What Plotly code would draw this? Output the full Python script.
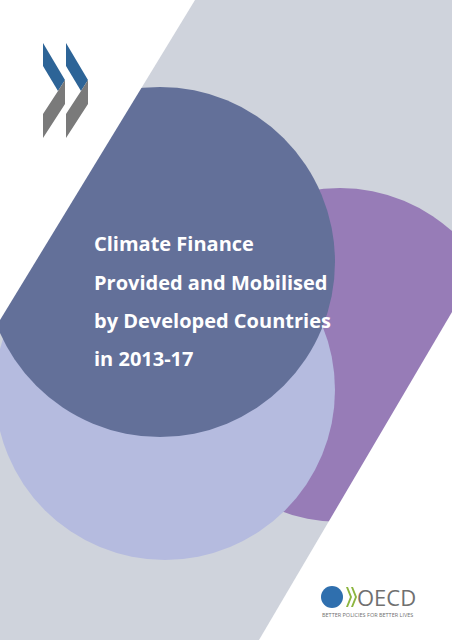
import plotly.graph_objects as go

W, H = 452, 640

# band of the cover (grey), cut by two diagonals
band_color = "#cfd3dc"
left_cut = [(0, 0), (195, 0), (0, 320)]
right_cut = [(452, 312), (452, 640), (259, 640)]

# circles: (cx, cy, r, colour), drawn back to front
circles = [
    (340, 355, 167, "#977cb7"),
    (165, 390, 170, "#b5bbdf"),
    (160, 262, 175, "#637099"),
]

title_lines = ["Climate Finance", "Provided and Mobilised",
               "by Developed Countries", "in 2013-17"]
title_y = [243, 282, 320, 358]

# logo chevrons (top-left)
chev_blue = [(43, 43), (65, 80), (58, 91), (43, 66)]
chev_grey = [(58, 91), (65, 80), (65, 104), (43, 138), (43, 114)]
chev_dx = [0, 23]


def path(pts):
    return "M " + " L ".join(f"{x},{y}" for x, y in pts) + " Z"


fig = go.Figure()
shapes = [dict(type="rect", x0=0, y0=0, x1=W, y1=H, fillcolor=band_color, line_width=0, layer="below")]
for cx, cy, r, c in circles:
    shapes.append(dict(type="circle", x0=cx - r, x1=cx + r, y0=cy - r, y1=cy + r,
                       fillcolor=c, line_width=0, layer="below"))
for poly in (left_cut, right_cut):
    shapes.append(dict(type="path", path=path(poly), fillcolor="white", line_width=0, layer="below"))
for dx in chev_dx:
    shapes.append(dict(type="path", path=path([(x + dx, y) for x, y in chev_blue]),
                       fillcolor="#2d6497", line_width=0))
    shapes.append(dict(type="path", path=path([(x + dx, y) for x, y in chev_grey]),
                       fillcolor="#7a7a7a", line_width=0))

# OECD globe + small green chevrons
shapes.append(dict(type="circle", x0=321, x1=343, y0=586, y1=608, fillcolor="#2f6fae", line_width=0))
for dx in [0, 5]:
    shapes.append(dict(type="path", path=path([(346 + dx, 587), (350 + dx, 597), (346 + dx, 607),
                                                (348 + dx, 607), (352 + dx, 597), (348 + dx, 587)]),
                       fillcolor="#8cb53f", line_width=0))

fig.update_layout(shapes=shapes)

for t, y in zip(title_lines, title_y):
    fig.add_annotation(x=92, y=y, text=f"<b>{t}</b>", showarrow=False, xanchor="left", yanchor="middle",
                       font=dict(family="Open Sans", size=20, color="white"))

fig.add_annotation(x=355, y=597, text="OECD", showarrow=False, xanchor="left", yanchor="middle",
                   font=dict(family="Open Sans", size=22, color="#707070"))
fig.add_annotation(x=320, y=615, text="BETTER POLICIES FOR BETTER LIVES", showarrow=False,
                   xanchor="left", yanchor="middle",
                   font=dict(family="Open Sans", size=5.5, color="#707070"))

fig.update_xaxes(range=[0, W], visible=False)
fig.update_yaxes(range=[H, 0], visible=False)
fig.update_layout(width=W, height=H, margin=dict(l=0, r=0, t=0, b=0),
                  plot_bgcolor="white", paper_bgcolor="white", showlegend=False)
fig.write_html("out.html", config={"displayModeBar": False},
               post_script="document.body.style.margin='0';document.body.style.overflow='hidden';")
